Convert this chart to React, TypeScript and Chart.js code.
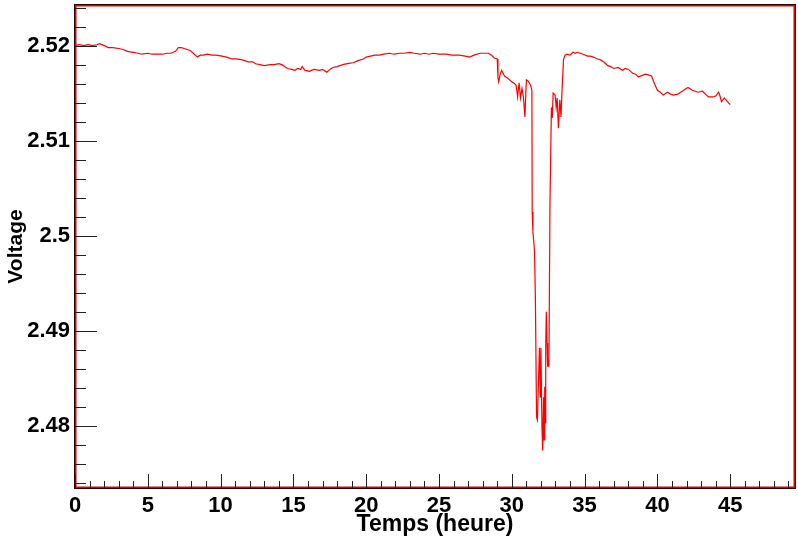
import React, { useEffect, useRef } from "react";
import { Chart, registerables } from "chart.js";

Chart.register(...registerables);

const timeHours = [
  0.0, 0.3, 0.6, 0.9, 1.2, 1.5, 1.7, 2.0, 2.3, 2.6, 3.0, 3.3, 3.6, 4.0, 4.3, 4.6,
  5.0, 5.3, 5.6, 6.0, 6.3, 6.6, 6.9, 7.1, 7.3, 7.5, 7.7, 7.9, 8.2, 8.4, 8.6, 8.8,
  9.1, 9.4, 9.7, 10.1, 10.4, 10.8, 11.1, 11.5, 11.9, 12.2, 12.4, 12.7, 13.0, 13.4,
  13.7, 14.0, 14.2, 14.4, 14.6, 14.9, 15.1, 15.3, 15.5, 15.6, 15.8, 16.1, 16.4,
  16.8, 17.0, 17.3, 17.5, 17.7, 18.0, 18.4, 18.7, 19.1, 19.4, 19.8, 20.0, 20.3,
  20.6, 20.9, 21.2, 21.6, 21.9, 22.3, 22.6, 23.0, 23.3, 23.7, 24.0, 24.3, 24.6,
  25.0, 25.5, 25.9, 26.4, 26.8, 27.1, 27.4, 27.8, 28.1, 28.4, 28.6, 28.8, 29.0,
  29.05, 29.1, 29.2, 29.3, 29.4, 29.5, 29.6, 29.7, 29.85, 30.0, 30.2, 30.3, 30.4,
  30.5, 30.6, 30.7, 30.8, 30.9, 31.0, 31.1, 31.2, 31.3, 31.38, 31.4, 31.45, 31.52,
  31.56, 31.62, 31.7, 31.76, 31.82, 31.9, 31.96, 32.0, 32.07, 32.12, 32.18, 32.22,
  32.26, 32.3, 32.33, 32.37, 32.42, 32.46, 32.5, 32.55, 32.62, 32.72, 32.78, 32.84,
  32.97, 33.05, 33.12, 33.2, 33.3, 33.38, 33.45, 33.55, 33.65, 33.8, 34.0, 34.2,
  34.35, 34.5, 34.7, 34.9, 35.2, 35.4, 35.6, 35.9, 36.1, 36.3, 36.6, 36.8, 37.0,
  37.3, 37.6, 37.8, 38.0, 38.3, 38.5, 38.7, 39.0, 39.2, 39.4, 39.6, 39.8, 40.0,
  40.2, 40.4, 40.7, 40.9, 41.1, 41.4, 41.6, 41.8, 42.1, 42.4, 42.6, 42.8, 43.1,
  43.3, 43.5, 43.8, 44.0, 44.2, 44.3, 44.4, 44.6, 44.8, 45.0,
];

const voltage = [
  2.52, 2.5201, 2.52, 2.5201, 2.52, 2.5201, 2.5202, 2.52, 2.5198, 2.5198, 2.5197,
  2.5196, 2.5194, 2.5193, 2.5192, 2.5191, 2.5192, 2.5191, 2.5191, 2.5191, 2.5192,
  2.5192, 2.5194, 2.5198, 2.5198, 2.5197, 2.5196, 2.5195, 2.5191, 2.5188, 2.519,
  2.519, 2.5191, 2.519, 2.519, 2.5189, 2.5188, 2.5186, 2.5186, 2.5185, 2.5183,
  2.5183, 2.5181, 2.518, 2.5179, 2.518, 2.518, 2.5181, 2.518, 2.5178, 2.5176,
  2.5175, 2.5174, 2.5176, 2.5175, 2.5178, 2.5174, 2.5173, 2.5175, 2.5174, 2.5175,
  2.5172, 2.5175, 2.5177, 2.5178, 2.518, 2.5181, 2.5182, 2.5184, 2.5186, 2.5188,
  2.5189, 2.519, 2.519, 2.5191, 2.5192, 2.5191, 2.5192, 2.5192, 2.5193, 2.5192,
  2.5191, 2.5192, 2.5191, 2.5192, 2.5191, 2.5191, 2.519, 2.519, 2.5189, 2.5188,
  2.519, 2.5192, 2.5192, 2.5192, 2.519, 2.5187, 2.5186, 2.5166, 2.5162, 2.517,
  2.5174, 2.5171, 2.5168, 2.5167, 2.5166, 2.5164, 2.5162, 2.516, 2.5158, 2.5146,
  2.5161, 2.5145, 2.5155, 2.5146, 2.5125, 2.5164, 2.5163, 2.5161, 2.5158, 2.5153,
  2.5025, 2.5004, 2.4992, 2.4983, 2.4934, 2.4809, 2.4806, 2.484, 2.4882, 2.483,
  2.4882, 2.48, 2.4774, 2.483, 2.4785, 2.4841, 2.4803, 2.4883, 2.492, 2.4887,
  2.4862, 2.487, 2.4862, 2.5032, 2.5135, 2.5124, 2.515, 2.5148, 2.5135, 2.5145,
  2.5113, 2.5143, 2.5125, 2.5153, 2.5185, 2.519, 2.5191, 2.519, 2.5193, 2.5192,
  2.5193, 2.5192, 2.5191, 2.5189, 2.5189, 2.5188, 2.5186, 2.5185, 2.5183, 2.5179,
  2.5178, 2.5176, 2.5177, 2.5174, 2.5176, 2.5175, 2.5171, 2.517, 2.5167, 2.5169,
  2.517, 2.5169, 2.5168, 2.516, 2.5153, 2.5151, 2.5148, 2.5151, 2.5149, 2.5148,
  2.5149, 2.5151, 2.5153, 2.5156, 2.5153, 2.5152, 2.5151, 2.5152, 2.5149, 2.5146,
  2.5146, 2.5147, 2.5151, 2.5147, 2.5141, 2.5145, 2.5141, 2.5138,
];

const xRange = [0, 49.45];
const yRange = [2.47344, 2.52428];
const xMajorStep = 5;
const xMinorStep = 1;
const yMajorStep = 0.01;
const yMinorStep = 0.002;
const xTitle = "Temps (heure)";
const yTitle = "Voltage";

const FONT = '"Liberation Sans", Arial, Helvetica, sans-serif';

export default function App() {
  const ref = useRef<HTMLCanvasElement>(null);

  useEffect(() => {
    if (!ref.current) return;
    const points = timeHours.map((t, i) => ({ x: t, y: voltage[i] }));

    const rootFrame = {
      id: "rootFrame",
      afterDraw(chart: any) {
        const { ctx, chartArea } = chart;
        const { left, right, top, bottom } = chartArea;
        const xs = chart.scales.x;
        const ys = chart.scales.y;
        ctx.save();
        // frame
        ctx.lineWidth = 1;
        ctx.strokeStyle = "#2a0000";
        ctx.strokeRect(left - 0.5, top - 0.5, right - left + 1, bottom - top + 1);
        ctx.lineWidth = 1.5;
        ctx.strokeStyle = "#e00000";
        ctx.strokeRect(left + 0.75, top + 0.75, right - left - 1.5, bottom - top - 1.5);
        // ticks
        ctx.strokeStyle = "#222";
        ctx.lineWidth = 1;
        ctx.beginPath();
        for (let k = 0; ; k++) {
          const v = xRange[0] + k * xMinorStep;
          if (v > xRange[1] + 1e-9) break;
          const major = Math.abs(v / xMajorStep - Math.round(v / xMajorStep)) < 1e-6;
          const px = Math.round(xs.getPixelForValue(v)) + 0.5;
          ctx.moveTo(px, bottom);
          ctx.lineTo(px, bottom - (major ? 14 : 7));
        }
        const yStart = Math.ceil(yRange[0] / yMinorStep - 1e-6);
        for (let k = yStart; ; k++) {
          const v = k * yMinorStep;
          if (v > yRange[1] + 1e-9) break;
          const major = Math.abs(v / yMajorStep - Math.round(v / yMajorStep)) < 1e-6;
          const py = Math.round(ys.getPixelForValue(v)) + 0.5;
          ctx.moveTo(left, py);
          ctx.lineTo(left + (major ? 22 : 11), py);
        }
        ctx.stroke();
        // titles
        ctx.fillStyle = "#000";
        ctx.textAlign = "center";
        ctx.textBaseline = "middle";
        ctx.font = `bold 23px ${FONT}`;
        ctx.fillText(xTitle, (left + right) / 2, 525);
        ctx.font = `bold 21px ${FONT}`;
        ctx.translate(16, (top + bottom) / 2);
        ctx.rotate(-Math.PI / 2);
        ctx.fillText(yTitle, 0, 0);
        ctx.restore();
      },
    };

    const chart = new Chart(ref.current, {
      type: "scatter",
      data: {
        datasets: [
          {
            data: points,
            showLine: true,
            borderColor: "#ff0000",
            backgroundColor: "#ff0000",
            borderWidth: 1.2,
            pointRadius: 0,
            tension: 0,
          },
        ],
      },
      options: {
        responsive: false,
        animation: false,
        layout: { padding: { left: 0, top: 5, right: 3, bottom: 0 } },
        plugins: {
          legend: { display: false },
          tooltip: { enabled: false },
        },
        scales: {
          x: {
            type: "linear",
            min: xRange[0],
            max: xRange[1],
            grid: { display: false, drawTicks: false },
            border: { display: false },
            afterFit(scale: any) {
              scale.height = 53;
              scale.paddingLeft = 0;
              scale.paddingRight = 0;
            },
            ticks: {
              stepSize: xMajorStep,
              includeBounds: false,
              padding: 5,
              color: "#000",
              font: { family: FONT, size: 22, weight: "bold" },
              maxRotation: 0,
              callback: (v: any) => String(v),
            },
          },
          y: {
            type: "linear",
            min: yRange[0],
            max: yRange[1],
            grid: { display: false, drawTicks: false },
            border: { display: false },
            afterFit(scale: any) {
              scale.width = 75;
              scale.paddingTop = 0;
              scale.paddingBottom = 0;
            },
            ticks: {
              stepSize: yMajorStep,
              includeBounds: false,
              padding: 5,
              color: "#000",
              font: { family: FONT, size: 22, weight: "bold" },
              callback: (v: any) => String(parseFloat(Number(v).toFixed(4))),
            },
          },
        },
      },
      plugins: [rootFrame],
    });
    return () => chart.destroy();
  }, []);

  return (
    <div style={{ position: "fixed", left: 0, top: 0, width: 798, height: 541, background: "#fff" }}>
      <canvas ref={ref} width={798} height={541} />
    </div>
  );
}
